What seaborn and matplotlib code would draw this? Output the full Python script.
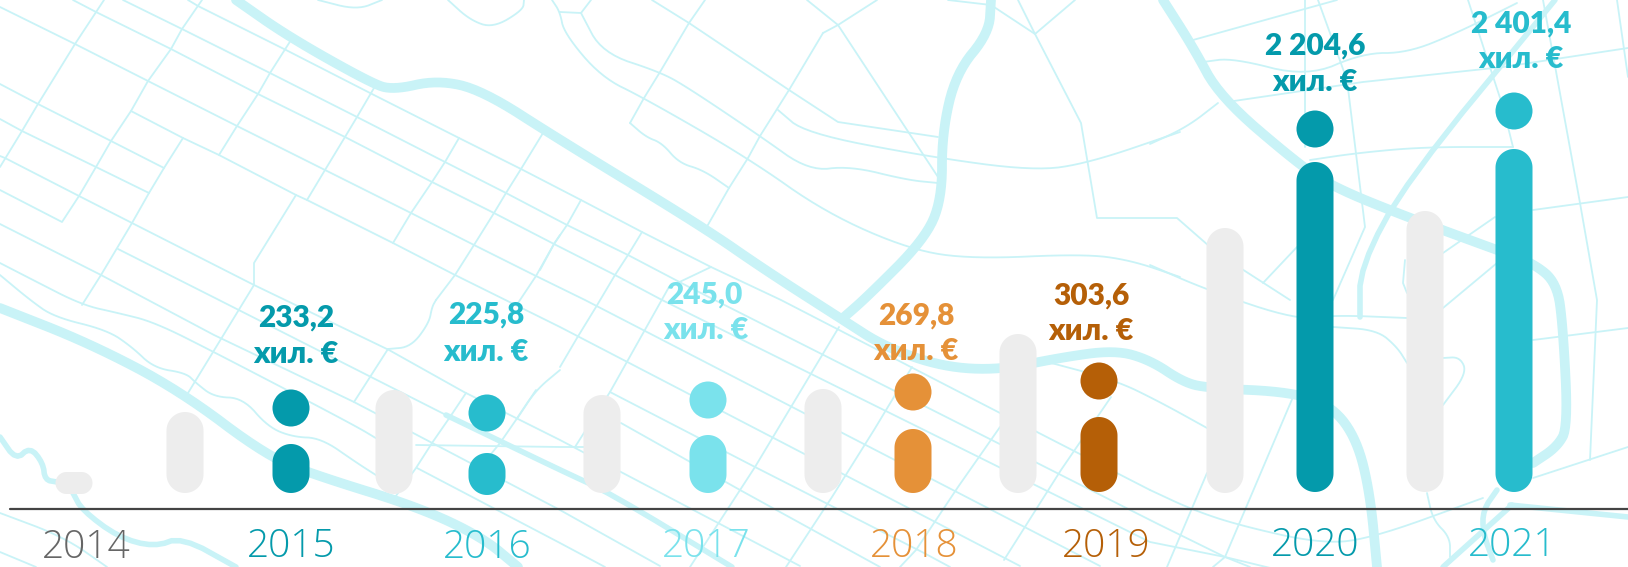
import matplotlib
matplotlib.use('Agg')
import matplotlib.pyplot as plt
from matplotlib.collections import LineCollection
from matplotlib.patches import Polygon
import numpy as np
import pandas as pd
import seaborn as sns

sns.set_style('white')
plt.rcParams['font.family'] = ['Lato', 'Noto Sans', 'DejaVu Sans']

years = ['2014', '2015', '2016', '2017', '2018', '2019', '2020', '2021']
values = ['233,2', '225,8', '245,0', '269,8', '303,6', '2 204,6', '2 401,4']
unit = 'хил. €'
gray_heights = [22, 81, 104, 98, 104, 159, 265, 281]
year_heights = [49, 42, 58, 64, 75, 330, 343]
dot_heights = [85, 80, 93, 101, 112, 364, 382]

# layout, in pixels of the 1628x567 picture
gray_x = [74, 185, 394, 602, 823, 1018, 1225, 1425]
year_x = [291, 487, 708, 913, 1099, 1315, 1514]
bar_lift = [-1, 0, -1, 0, 0, 0, 0, 1, 0, -2, 0, 0, 1, 1, 1]
year_label_x = [86, 291, 487, 706, 914, 1106, 1315, 1512]
year_label_y = [548, 547, 548, 547, 547, 547, 546, 546]
value_label_x = [296, 486, 704, 916, 1091, 1315, 1521]
value_label_y = [318, 315, 295, 316, 296, 46, 24]
unit_label_x = [296, 486, 706, 916, 1091, 1315, 1521]
unit_label_y = [354, 352, 330, 351, 331, 82, 59]
FOOT = 493
LINE_Y = 509

# colours
GRAY = '#EDEDED'
year_colors = ['#049AAB', '#27BCCD', '#7AE2EC', '#E59138', '#B55F07', '#049AAB', '#27BCCD']
text_colors = ['#666666'] + year_colors
ROAD = '#C9F3F7'

# the street map behind the chart
straight_roads = [
    # long diagonals
    [(0, 7), (75, 44), (148, 81), (237, 126), (325, 170), (411, 213), (474, 245), (536, 276), (585, 300), (1100, 566)],
    [(73, 0), (96, 12), (171, 49), (258, 94), (345, 137), (432, 182), (494, 213), (554, 244), (615, 275), (662, 300), (1150, 542), (1225, 557), (1320, 580)],
    [(123, 0), (182, 29), (270, 73), (357, 117), (445, 162), (506, 193), (567, 225), (628, 255), (689, 287), (1150, 520), (1160, 525), (1225, 557), (1250, 567)],
    [(188, 0), (198, 6), (286, 50), (372, 94), (459, 138), (521, 169), (581, 200), (642, 232), (711, 267), (781, 300), (1000, 413), (1150, 490)],
    [(0, 84), (38, 104), (111, 141), (164, 168)],
    [(0, 119), (22, 131), (96, 167), (149, 193)],
    [(0, 156), (5, 158), (79, 196), (132, 223), (254, 285), (389, 350), (464, 392), (560, 440), (800, 566)],
    [(0, 190), (62, 222), (79, 196)],
    [(131, 111), (183, 138), (219, 155), (296, 195), (307, 200), (393, 243), (455, 275), (560, 327), (1020, 566)],
    [(0, 224), (101, 275), (214, 335), (354, 402), (417, 435), (560, 510), (660, 566)],
    [(118, 249), (219, 300), (371, 377), (446, 415)],
    [(417, 468), (560, 543), (605, 567)],
    [(610, 392), (755, 467), (924, 553), (950, 567)],
    [(621, 423), (740, 490), (800, 523), (880, 567)],
    [(416, 445), (560, 447), (600, 447)],
    # cross streets
    [(104, 0), (75, 44), (38, 104), (22, 131), (0, 167)],
    [(202, 0), (182, 29), (171, 49), (148, 81), (131, 111), (111, 141), (96, 167), (79, 196)],
    [(183, 138), (164, 168), (149, 193), (132, 223), (101, 275), (82, 305)],
    [(291, 40), (270, 73), (258, 94), (237, 126), (219, 155)],
    [(374, 88), (357, 117), (345, 137), (325, 170), (307, 200)],
    [(296, 195), (254, 263), (254, 285), (188, 393)],
    [(459, 138), (445, 162), (432, 182), (411, 213), (393, 243)],
    [(543, 133), (521, 169), (506, 193), (494, 213), (474, 245), (455, 275), (436, 300)],
    [(388, 349), (354, 402)],
    [(560, 235), (554, 244), (536, 276), (518, 303)],
    [(466, 393), (450, 417), (432, 443), (416, 468), (393, 500)],
    [(536, 390), (518, 417), (500, 443), (478, 470)],
    [(581, 200), (567, 225), (554, 244), (540, 270)],
    [(642, 232), (628, 255), (615, 275), (596, 307), (577, 338), (560, 367)],
    [(711, 267), (669, 287), (610, 392), (575, 447)],
    [(839, 327), (755, 467), (690, 567)],
    [(912, 367), (874, 430), (832, 497), (786, 567)],
    [(1000, 427), (958, 487), (916, 550), (900, 567)],
    [(1111, 397), (1061, 470), (1004, 560)],
    [(1293, 397), (1225, 557), (1213, 567)],
    [(1207, 473), (1167, 567)],
    # top of the map
    [(560, 12), (581, 13), (591, 0)],
    [(877, 0), (838, 25), (823, 33)],
    [(823, 33), (789, 90), (760, 136), (748, 158), (729, 188), (705, 230)],
    [(807, 0), (838, 25), (909, 133), (938, 177)],
    [(652, 0), (689, 23), (789, 90), (838, 122), (938, 137)],
    [(705, 0), (689, 23), (660, 72), (644, 98), (630, 123)],
    [(948, 0), (991, 5), (1035, 34), (1075, 0)],
    [(1018, 0), (1035, 34), (1081, 123), (1097, 218), (1177, 218), (1217, 253), (1290, 300)],
    # right part
    [(1193, 40), (1337, 0)],
    [(1227, 102), (1363, 82), (1503, 67), (1628, 48)],
    [(1305, 0), (1305, 147)],
    [(1318, 0), (1347, 80), (1365, 227), (1333, 300)],
    [(1468, 0), (1503, 107), (1513, 147)],
    [(1543, 0), (1580, 203), (1597, 300), (1590, 460)],
    [(1617, 0), (1628, 77)],
    [(1533, 210), (1628, 197)],
    [(1443, 308), (1497, 263)],
    [(1443, 253), (1495, 217)],
    [(1533, 340), (1628, 328)],
    [(1533, 478), (1628, 447)],
    [(1405, 260), (1403, 283), (1407, 293)],
    [(0, 552), (36, 567)],
]
curved_roads = [
    [(0, 263), (33, 280), (82, 305), (118, 313), (154, 322), (214, 352), (354, 425), (379, 440)],
    [(0, 275), (30, 300), (54, 317), (107, 330), (132, 347), (154, 368), (186, 373), (196, 383), (214, 397), (243, 398), (268, 427), (293, 437), (321, 438), (357, 463), (379, 477)],
    [(1040, 360), (1115, 380), (1160, 402), (1207, 428)],
    [(318, 0), (357, 10), (382, 0)],
    [(448, 0), (470, 20), (493, 28), (523, 10), (524, 0)],
    [(436, 300), (432, 307), (429, 323), (411, 347), (388, 349)],
    [(552, 0), (560, 12), (564, 33), (601, 77), (644, 98), (748, 158), (826, 213), (911, 250), (973, 259), (1083, 254), (1130, 260), (1180, 277)],
    [(581, 13), (602, 53), (660, 72), (687, 87), (760, 136), (809, 171), (850, 166), (907, 180), (938, 183)],
    [(630, 123), (646, 137), (662, 143), (679, 163), (703, 170), (729, 188)],
    [(778, 110), (805, 133), (924, 156), (1034, 171), (1089, 163), (1180, 132)],
    [(1203, 62), (1233, 58), (1307, 77), (1363, 53), (1407, 53), (1457, 33), (1517, 3)],
    [(1150, 144), (1187, 127), (1218, 103)],
    [(1310, 160), (1357, 153), (1423, 147), (1513, 147)],
    [(1263, 283), (1297, 247)],
    [(1150, 265), (1207, 290), (1297, 320), (1333, 315), (1407, 318)],
    [(1333, 327), (1377, 330), (1397, 347), (1407, 363)],
    [(1443, 358), (1460, 357), (1467, 373), (1443, 405)],
    [(1483, 498), (1367, 540), (1317, 543), (1238, 525), (1193, 510), (1150, 490)],
    [(1427, 493), (1433, 520), (1450, 537), (1450, 557)],
    [(0, 513), (64, 537), (107, 567)],
    [(560, 370), (536, 390), (518, 417)],
]
thick_roads = [
    [(236, 0), (289, 37), (371, 83), (393, 90), (437, 80), (482, 90), (560, 140), (703, 227), (765, 270), (843, 320), (885, 347), (943, 367), (1000, 370), (1058, 358), (1115, 350), (1150, 360), (1183, 382), (1207, 388), (1293, 392), (1333, 407), (1357, 440), (1370, 493), (1377, 567)],
    [(0, 308), (89, 343), (179, 390), (268, 457), (321, 477), (418, 507), (482, 537), (518, 567)],
    [(991, 0), (989, 33), (956, 73), (942, 133), (942, 200), (924, 240), (867, 297), (843, 318)],
    [(1163, 0), (1193, 47), (1220, 97), (1297, 163), (1333, 187), (1407, 217), (1497, 250), (1533, 263), (1557, 283), (1563, 327), (1568, 427), (1557, 447), (1533, 463)],
]
medium_roads = [
    [(1555, 0), (1407, 180), (1360, 267), (1360, 317)],
    [(1510, 505), (1628, 517)],
    [(1512, 505), (1443, 567)],
    [(1497, 490), (1483, 510), (1483, 533), (1493, 560)],
    [(446, 415), (560, 470), (610, 493), (732, 567)],
    [(0, 437), (16, 460), (30, 447), (43, 463), (45, 480), (57, 482)],
    [(73, 493), (82, 510), (118, 537), (154, 547), (182, 537), (236, 567)],
]


def smooth(road, rounds=3):
    # corner cutting, only to round off the traced streets
    pts = np.array(road, dtype=float)
    for _ in range(rounds):
        q = 0.75 * pts[:-1] + 0.25 * pts[1:]
        r = 0.25 * pts[:-1] + 0.75 * pts[1:]
        mid = np.empty((2 * len(q), 2))
        mid[0::2] = q
        mid[1::2] = r
        pts = np.vstack([pts[:1], mid, pts[-1:]])
    return pts


def pill(cx, bottom, w, h):
    # y goes up on this axes, both ends are half circles
    r = min(w, h) / 2
    t = np.linspace(0, np.pi / 2, 20)
    c, s = np.cos(t), np.sin(t)
    x0, x1 = cx - w / 2 + r, cx + w / 2 - r
    y0, y1 = bottom + r, bottom + h - r
    top_r = np.c_[x1 + r * c, y1 + r * s]
    top_l = np.c_[x0 - r * s, y1 + r * c]
    low_l = np.c_[x0 - r * c, y0 - r * s]
    low_r = np.c_[x1 + r * s, y0 - r * c]
    return np.vstack([top_r, top_l, low_l, low_r])


fig = plt.figure(figsize=(16.28, 5.67), dpi=100)

map_ax = fig.add_axes([0, 0, 1, 1])
map_ax.set_xlim(0, 1628)
map_ax.set_ylim(567, 0)
map_ax.axis('off')
thin_lines = straight_roads + [smooth(r) for r in curved_roads]
map_ax.add_collection(LineCollection(thin_lines, colors=ROAD, linewidths=1.3, capstyle='round', joinstyle='round'))
map_ax.add_collection(LineCollection([smooth(r, 2) for r in medium_roads], colors=ROAD, linewidths=4, capstyle='round', joinstyle='round'))
map_ax.add_collection(LineCollection([smooth(r) for r in thick_roads], colors=ROAD, linewidths=7, capstyle='round', joinstyle='round'))

ax = fig.add_axes([0, 0, 1, 1])
ax.patch.set_alpha(0)

# gray bar then the bar of the year, the first gray one has no year next to it
bars = pd.DataFrame({
    'x': gray_x + year_x,
    'height': gray_heights + year_heights,
    'name': ['g' + y for y in years] + ['c' + y for y in years[1:]],
})
palette = {'g' + y: GRAY for y in years}
palette.update({'c' + y: c for y, c in zip(years[1:], year_colors)})
sns.barplot(data=bars, x='x', y='height', hue='name', palette=palette, saturation=1,
            native_scale=True, dodge=False, legend=False, ax=ax)

# swap the square bars for pills
old_bars = [p for p in ax.patches if p.get_height() > 0]
for p, lift in zip(old_bars, bar_lift):
    cx = p.get_x() + p.get_width() / 2
    ax.add_patch(Polygon(pill(cx, lift, 37, p.get_height()), closed=True,
                         facecolor=p.get_facecolor(), edgecolor='none', zorder=3))
    p.remove()

dots = pd.DataFrame({'x': year_x, 'y': dot_heights, 'year': years[1:]})
sns.scatterplot(data=dots, x='x', y='y', hue='year', palette=year_colors, s=710,
                linewidth=0, legend=False, zorder=3, ax=ax)

ax.set_xlim(0, 1628)
ax.set_ylim(FOOT - 567, FOOT)
ax.axis('off')

ax.plot([10, 1628], [FOOT - LINE_Y, FOOT - LINE_Y], color='#444444', lw=1.6, zorder=4)

for label, x, y, c in zip(years, year_label_x, year_label_y, text_colors):
    ax.text(x, FOOT - y, label, color=c, fontsize=28, family='Open Sans', fontweight='light',
            ha='center', va='center', zorder=5)
for label, x, y, c in zip(values, value_label_x, value_label_y, year_colors):
    ax.text(x, FOOT - y, label, color=c, fontsize=21.5, fontweight='heavy',
            ha='center', va='center', zorder=5)
for x, y, c in zip(unit_label_x, unit_label_y, year_colors):
    ax.text(x, FOOT - y, unit, color=c, fontsize=22, fontweight='heavy',
            ha='center', va='center', zorder=5)

fig.savefig('out.png', dpi=100)
